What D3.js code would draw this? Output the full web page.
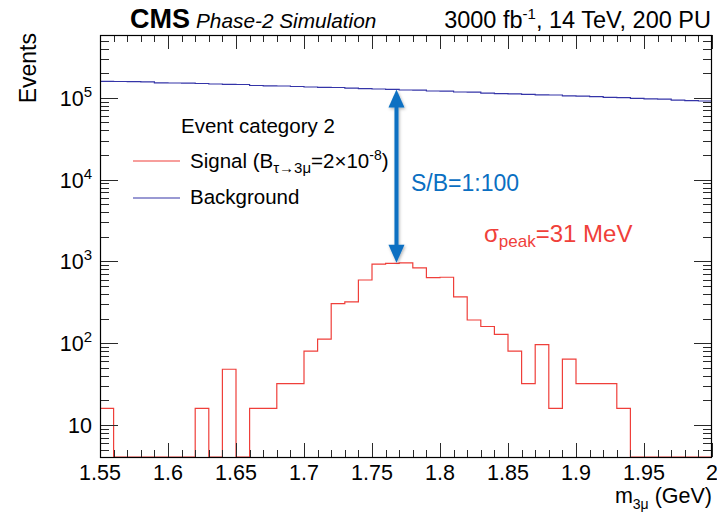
<!DOCTYPE html>
<html>
<head>
<meta charset="utf-8">
<script src="https://cdn.jsdelivr.net/npm/d3@7"></script>
<style>
  body { margin: 0; background: #fff; }
  svg { display: block; }
  text { font-family: "Liberation Sans", Arial, Helvetica, sans-serif; }
</style>
</head>
<body>
<svg id="chart" width="717" height="516"></svg>
<script>
// Three-muon invariant mass, 45 bins of 10 MeV between 1.55 and 2.00 GeV
const binLow = 1.55;
const binWidth = 0.01;
const signalCounts = [
  16, 0, 0, 0, 0, 0, 0, 16, 0, 48,
  0, 16, 16, 32, 32, 80, 112, 304, 320, 592,
  928, 944, 960, 832, 632, 640, 368, 192, 160, 128,
  80, 32, 96, 16, 64, 32, 32, 32, 16, 0,
  0, 0, 0, 0, 0
];
const backgroundCounts = [
  159100, 158200, 157800, 156900, 152500, 151700, 150800, 149600, 147500, 146200,
  145400, 141400, 140200, 139400, 137400, 135500, 134400, 133600, 131000, 129600,
  128100, 126700, 124600, 123900, 121100, 120400, 117700, 117100, 113800, 112600,
  111900, 110400, 108800, 108200, 105800, 104600, 103100, 101400, 100800, 98600,
  97200, 96100, 93500, 92400, 91400
];
const xTickLabels = ["1.55", "1.6", "1.65", "1.7", "1.75", "1.8", "1.85", "1.9", "1.95", "2"];
const yTickExponents = [1, 2, 3, 4, 5];
const arrowMass = 1.768;   // where the S/B arrow is drawn

const plot = { left: 100, right: 712, top: 35, bottom: 457 };
const svg = d3.select("#chart");

const x = d3.scaleLinear().domain([1.55, 2.0]).range([plot.left, plot.right]);
const y = d3.scaleLog().domain([4.06, 5.86e5]).range([plot.bottom, plot.top]).clamp(true);
const yOf = v => (v > 0 ? y(v) : plot.bottom);

const defs = svg.append("defs");
defs.append("clipPath").attr("id", "plotClip")
  .append("rect")
  .attr("x", plot.left).attr("y", plot.top)
  .attr("width", plot.right - plot.left).attr("height", plot.bottom - plot.top);

const shadow = defs.append("filter").attr("id", "arrowShadow")
  .attr("x", "-50%").attr("y", "-10%").attr("width", "200%").attr("height", "120%");
shadow.append("feDropShadow").attr("dx", 1).attr("dy", 1.5)
  .attr("stdDeviation", 1.5).attr("flood-color", "#000").attr("flood-opacity", 0.3);

// ---- histograms (step outlines) ----
function stepPoints(counts) {
  const pts = [[binLow, 0]];
  counts.forEach((c, i) => pts.push([binLow + i * binWidth, c]));
  pts.push([binLow + counts.length * binWidth, counts[counts.length - 1]]);
  return pts;
}
const stepLine = d3.line()
  .x(d => x(d[0]))
  .y(d => yOf(d[1]))
  .curve(d3.curveStepAfter);

const hist = svg.append("g").attr("clip-path", "url(#plotClip)");
hist.append("path")
  .attr("d", stepLine(stepPoints(backgroundCounts).slice(1)))
  .attr("fill", "none").attr("stroke", "#3434a8").attr("stroke-width", 1.2);
hist.append("path")
  .attr("d", stepLine(stepPoints(signalCounts)))
  .attr("fill", "none").attr("stroke", "#ef3f3a").attr("stroke-width", 1.2);

// ---- axes: ticks drawn inside the frame on all four sides ----
const xMajor = xTickLabels.map(Number);
const xMinor = d3.range(156, 200).map(v => v / 100).filter(v => Math.round(v * 100) % 5 !== 0);
const yMajor = yTickExponents.map(e => Math.pow(10, e));
const yMinor = [];
for (let e = 0; e <= 5; e++) {
  for (let m = 2; m <= 9; m++) {
    const v = m * Math.pow(10, e);
    if (v >= 4.06 && v <= 5.86e5) yMinor.push(v);
  }
}

function tickGroup(axis, transform) {
  const g = svg.append("g").attr("transform", transform).call(axis);
  g.select(".domain").remove();
  g.selectAll(".tick line").attr("stroke", "#2a2a2a").attr("stroke-width", 1).attr("shape-rendering", "crispEdges");
  g.selectAll(".tick text").remove();
  return g;
}
tickGroup(d3.axisBottom(x).tickValues(xMajor).tickSize(-14).tickFormat(""), `translate(0,${plot.bottom})`);
tickGroup(d3.axisBottom(x).tickValues(xMinor).tickSize(-7).tickFormat(""), `translate(0,${plot.bottom})`);
tickGroup(d3.axisTop(x).tickValues(xMajor).tickSize(-14).tickFormat(""), `translate(0,${plot.top})`);
tickGroup(d3.axisTop(x).tickValues(xMinor).tickSize(-7).tickFormat(""), `translate(0,${plot.top})`);
tickGroup(d3.axisLeft(y).tickValues(yMajor).tickSize(-18).tickFormat(""), `translate(${plot.left},0)`);
tickGroup(d3.axisLeft(y).tickValues(yMinor).tickSize(-9).tickFormat(""), `translate(${plot.left},0)`);
tickGroup(d3.axisRight(y).tickValues(yMajor).tickSize(-18).tickFormat(""), `translate(${plot.right},0)`);
tickGroup(d3.axisRight(y).tickValues(yMinor).tickSize(-9).tickFormat(""), `translate(${plot.right},0)`);

// frame
svg.append("rect")
  .attr("x", plot.left + 0.5).attr("y", plot.top + 0.5)
  .attr("width", plot.right - plot.left - 1).attr("height", plot.bottom - plot.top)
  .attr("fill", "none").attr("stroke", "#000").attr("stroke-width", 1.2);

// x tick labels
svg.append("g").selectAll("text").data(xTickLabels).join("text")
  .attr("x", d => x(+d)).attr("y", 480)
  .attr("text-anchor", "middle").attr("font-size", 21.5).attr("fill", "#000")
  .text(d => d);

// y tick labels (powers of ten)
const yLab = svg.append("g").selectAll("text").data(yTickExponents).join("text")
  .attr("x", 92).attr("y", d => y(Math.pow(10, d)) + 8)
  .attr("text-anchor", "end").attr("font-size", 21.5).attr("fill", "#000");
yLab.each(function (e) {
  const t = d3.select(this);
  t.append("tspan").text("10");
  if (e !== 1) t.append("tspan").attr("dy", -9).attr("font-size", 15).text(e);
});

// axis titles
svg.append("text")
  .attr("transform", `translate(36,${plot.top - 2}) rotate(-90)`)
  .attr("text-anchor", "end").attr("font-size", 23).text("Events");

const xt = svg.append("text").attr("x", 712).attr("y", 503)
  .attr("text-anchor", "end").attr("font-size", 21.5);
xt.append("tspan").text("m");
xt.append("tspan").attr("dy", 6).attr("font-size", 14).text("3μ");
xt.append("tspan").attr("dy", -6).text(" (GeV)");

// header
const hdr = svg.append("text").attr("x", 130).attr("y", 28);
hdr.append("tspan").attr("font-weight", "bold").attr("font-size", 27).text("CMS");
hdr.append("tspan").attr("font-style", "italic").attr("font-size", 20.8).attr("dx", 6).text("Phase-2 Simulation");

const lumi = svg.append("text").attr("x", 711).attr("y", 28)
  .attr("text-anchor", "end").attr("font-size", 23.5);
lumi.append("tspan").text("3000 fb");
lumi.append("tspan").attr("dy", -9).attr("font-size", 15).text("-1");
lumi.append("tspan").attr("dy", 9).text(", 14 TeV, 200 PU");

// legend
svg.append("text").attr("x", 181).attr("y", 133).attr("font-size", 20.5).text("Event category 2");
const legendRows = [
  { color: "#ef3f3a", y: 161 },
  { color: "#3434a8", y: 198 }
];
svg.append("g").selectAll("line").data(legendRows).join("line")
  .attr("x1", 133).attr("x2", 180)
  .attr("y1", d => d.y).attr("y2", d => d.y)
  .attr("stroke", d => d.color).attr("stroke-width", 1.2);

const sigLab = svg.append("text").attr("x", 190).attr("y", 168).attr("font-size", 20.5);
sigLab.append("tspan").text("Signal (B");
sigLab.append("tspan").attr("dy", 5).attr("font-size", 15).text("τ→3μ");
sigLab.append("tspan").attr("dy", -5).text("=2×10");
sigLab.append("tspan").attr("dy", -8).attr("font-size", 14).text("-8");
sigLab.append("tspan").attr("dy", 8).text(")");
svg.append("text").attr("x", 190).attr("y", 204).attr("font-size", 20.5).text("Background");

// S/B arrow between background level and signal peak
const arrowBin = Math.floor((arrowMass - binLow) / binWidth);
const ax = x(arrowMass);
const yTopTip = y(backgroundCounts[arrowBin]);
const yBotTip = y(d3.max(signalCounts));
const headL = 18, headW = 8;
const arrowG = svg.append("g").attr("filter", "url(#arrowShadow)").attr("fill", "#0a6fc2");
arrowG.append("rect").attr("x", ax - 2).attr("y", yTopTip + headL - 1)
  .attr("width", 4).attr("height", yBotTip - yTopTip - 2 * headL + 2);
arrowG.append("path").attr("d",
  `M${ax},${yTopTip} L${ax + headW},${yTopTip + headL} L${ax - headW},${yTopTip + headL} Z`);
arrowG.append("path").attr("d",
  `M${ax},${yBotTip} L${ax + headW},${yBotTip - headL} L${ax - headW},${yBotTip - headL} Z`);

svg.append("text").attr("x", 411).attr("y", 191)
  .attr("font-family", "Lato, 'Open Sans', sans-serif").attr("font-size", 23)
  .attr("fill", "#0a6fc2").text("S/B=1:100");

const sp = svg.append("text").attr("x", 484).attr("y", 242).attr("font-size", 24).attr("fill", "#f0403a");
sp.append("tspan").text("σ");
sp.append("tspan").attr("dy", 5).attr("font-size", 17).text("peak");
sp.append("tspan").attr("dy", -5).text("=31 MeV");
</script>
</body>
</html>
